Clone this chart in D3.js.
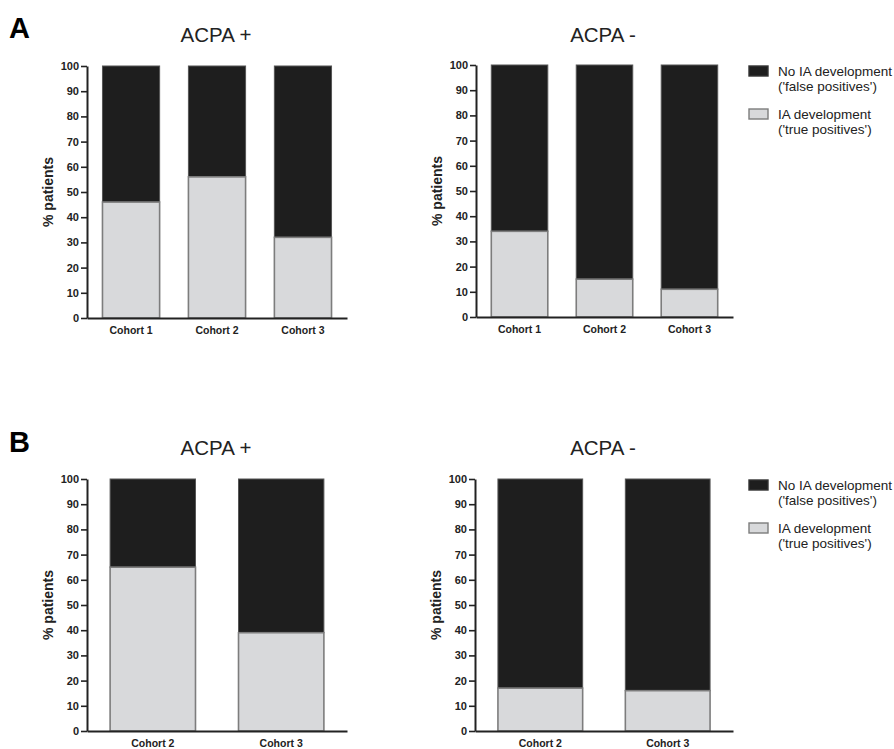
<!DOCTYPE html>
<html>
<head>
<meta charset="utf-8">
<script src="https://cdn.jsdelivr.net/npm/d3@7"></script>
<style>
  body { margin: 0; background: #fff; }
  svg { display: block; font-family: "Liberation Sans", Arial, sans-serif; }
</style>
</head>
<body>
<svg id="chart" width="894" height="749"></svg>
<script>
// data (% patients with IA development, rest = no IA)
var cohortsA = ["Cohort 1", "Cohort 2", "Cohort 3"];
var acpaPosA = [46, 56, 32];
var acpaNegA = [34, 15, 11];

var cohortsB = ["Cohort 2", "Cohort 3"];
var acpaPosB = [65, 39];
var acpaNegB = [17, 16];

var yTicks = [0, 10, 20, 30, 40, 50, 60, 70, 80, 90, 100];
var panelTitles = ["ACPA +", "ACPA -"];
var panelLetters = ["A", "B"];
var legendLabels = [
  ["No IA development", "('false positives')"],
  ["IA development", "('true positives')"]
];

var darkFill = "#1e1e1e";
var lightFill = "#d8d9db";
var barStroke = "#7d7d7d";

var svg = d3.select("#chart");

// layout of the four panels
var panels = [
  { cats: cohortsA, vals: acpaPosA, title: panelTitles[0], x0: 87, x1: 347, top: 66, bottom: 318, titleX: 216, titleY: 42 },
  { cats: cohortsA, vals: acpaNegA, title: panelTitles[1], x0: 476, x1: 733, top: 65, bottom: 317, titleX: 603, titleY: 42, legend: true },
  { cats: cohortsB, vals: acpaPosB, title: panelTitles[0], x0: 87, x1: 347, top: 479, bottom: 731, titleX: 216, titleY: 455 },
  { cats: cohortsB, vals: acpaNegB, title: panelTitles[1], x0: 475, x1: 733, top: 479, bottom: 731, titleX: 603, titleY: 455, legend: true }
];

svg.append("text").attr("x", 9).attr("y", 38)
  .style("font-size", "29px").style("font-weight", "bold").text(panelLetters[0]);
svg.append("text").attr("x", 9).attr("y", 452)
  .style("font-size", "29px").style("font-weight", "bold").text(panelLetters[1]);

panels.forEach(function(p){
  var g = svg.append("g");

  var x = d3.scaleBand().domain(p.cats).range([p.x0, p.x1])
    .paddingInner(0.335).paddingOuter(0.18);
  var y = d3.scaleLinear().domain([0, 100]).range([p.bottom, p.top]);

  // title
  g.append("text").attr("x", p.titleX).attr("y", p.titleY)
    .attr("text-anchor", "middle")
    .style("font-size", "20.5px").style("fill", "#222")
    .text(p.title);

  // dark part (no IA) drawn full height, light part on top of it
  g.selectAll(".dark").data(p.vals).enter().append("rect")
    .attr("x", function(d, i){ return x(p.cats[i]); })
    .attr("y", y(100))
    .attr("width", x.bandwidth())
    .attr("height", function(d){ return y(d) - y(100); })
    .style("fill", darkFill)
    .style("stroke", "#555").style("stroke-width", 1);

  g.selectAll(".light").data(p.vals).enter().append("rect")
    .attr("x", function(d, i){ return x(p.cats[i]); })
    .attr("y", function(d){ return y(d); })
    .attr("width", x.bandwidth())
    .attr("height", function(d){ return y(0) - y(d); })
    .style("fill", lightFill)
    .style("stroke", barStroke).style("stroke-width", 1.6);

  // y axis
  var ya = g.append("g").attr("transform", "translate(" + p.x0 + ",0)")
    .call(d3.axisLeft(y).tickValues(yTicks).tickSize(6).tickSizeOuter(0).tickPadding(2));
  ya.select(".domain").style("stroke", "#222").style("stroke-width", 2);
  ya.selectAll(".tick line").style("stroke", "#222").style("stroke-width", 1.6);
  ya.selectAll(".tick text").style("font-size", "11px").style("font-weight", "bold")
    .style("fill", "#222").style("font-family", "Liberation Sans, Arial, sans-serif");

  // x axis
  var xa = g.append("g").attr("transform", "translate(0," + p.bottom + ")")
    .call(d3.axisBottom(x).tickSize(0).tickSizeOuter(0).tickPadding(9));
  xa.select(".domain").style("stroke", "#222").style("stroke-width", 2);
  xa.selectAll(".tick text").style("font-size", "10.5px").style("font-weight", "bold")
    .style("fill", "#222").style("font-family", "Liberation Sans, Arial, sans-serif");

  // y label
  var ly = (p.top + p.bottom) / 2;
  g.append("text")
    .attr("transform", "translate(" + (p.x0 - 34) + "," + ly + ") rotate(-90)")
    .attr("text-anchor", "middle")
    .style("font-size", "14px").style("font-weight", "bold").style("fill", "#222")
    .text("% patients");

  if(p.legend){
    var lx = p.x1 + 15;
    var items = [darkFill, lightFill];
    items.forEach(function(c, i){
      var ty = p.top + 1 + i * 43;
      g.append("rect").attr("x", lx + 1).attr("y", ty)
        .attr("width", 19).attr("height", 10)
        .style("fill", c)
        .style("stroke", i == 0 ? "#333" : barStroke).style("stroke-width", 1.4);
      g.append("text").attr("x", lx + 30).attr("y", ty + 10)
        .style("font-size", "13.5px").style("fill", "#222")
        .text(legendLabels[i][0]);
      g.append("text").attr("x", lx + 30).attr("y", ty + 25)
        .style("font-size", "13.5px").style("fill", "#222")
        .text(legendLabels[i][1]);
    });
  }
});
</script>
</body>
</html>
